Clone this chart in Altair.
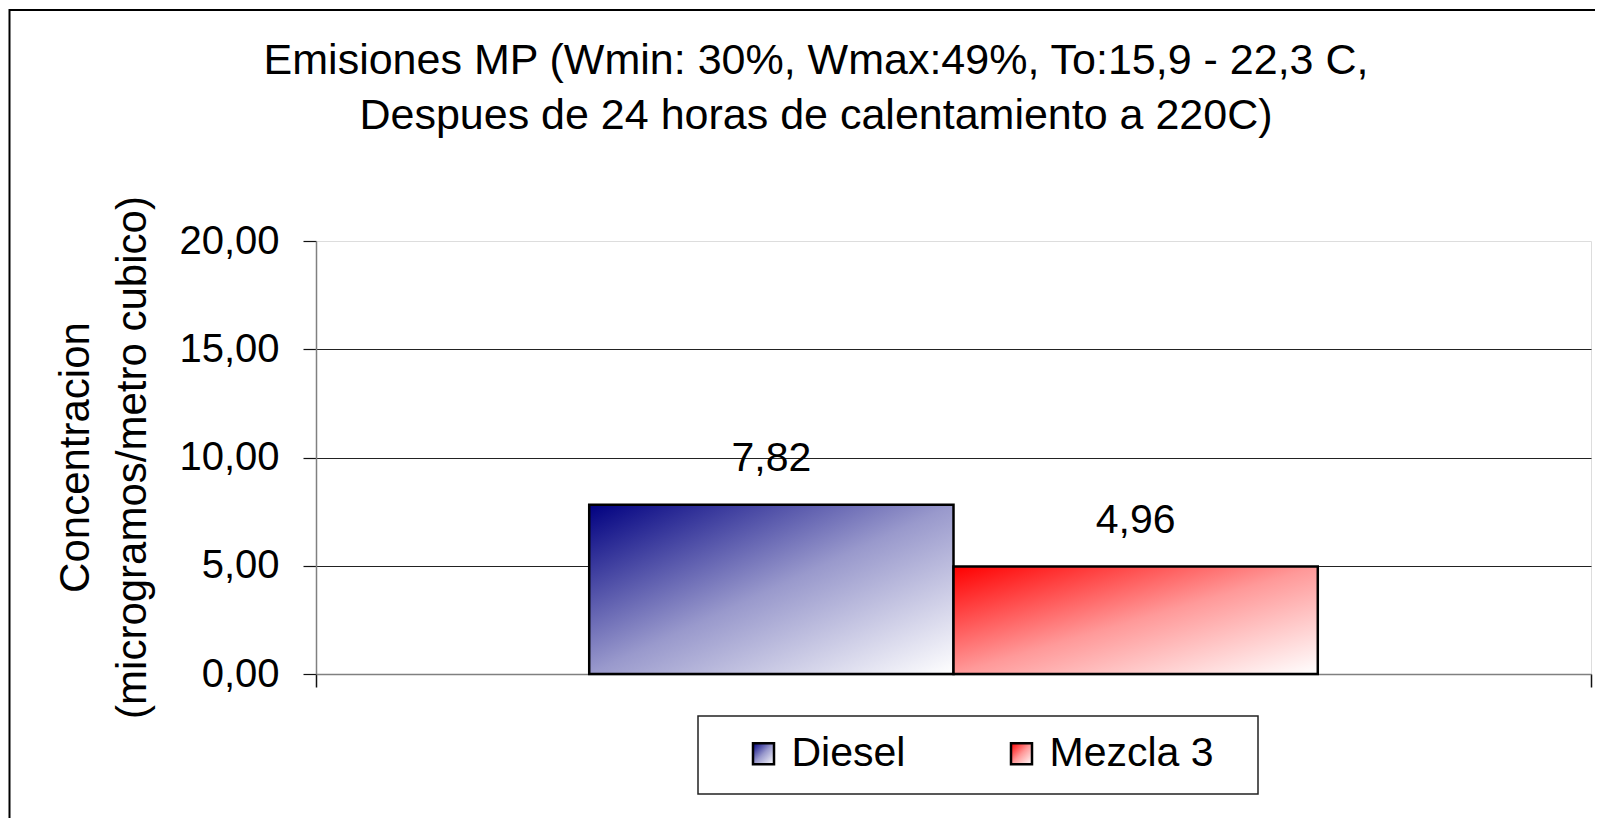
import altair as alt
import pandas as pd

# ---- data ----
categories = ["MP"]
series = ["Diesel", "Mezcla 3"]
values = [7.82, 4.96]
top_colors = ["#000080", "#FF0000"]
mid_colors = ["#9999CC", "#FF9999"]
y_ticks = [0, 5, 10, 15, 20]
title_lines = [
    "Emisiones MP (Wmin: 30%, Wmax:49%, To:15,9 - 22,3 C,",
    "Despues de 24 horas de calentamiento a 220C)",
]
y_title = ["Concentracion", "(microgramos/metro cubico)"]

FONT = "Liberation Sans"

df = pd.DataFrame({
    "cat": categories * len(series),
    "series": series,
    "value": values,
})


def grad_expr(c, m):
    return ("{gradient: 'linear', x1: 0, y1: 0, x2: 1, y2: 1, "
            f"stops: [{{offset: 0, color: '{c}'}}, {{offset: 0.5, color: '{m}'}}, "
            "{offset: 1, color: '#ffffff'}]}")


x_enc = alt.X(
    "cat:N",
    scale=alt.Scale(paddingInner=0, paddingOuter=0),
    axis=alt.Axis(labels=False, title=None, tickBand="extent", tickSize=13,
                  tickColor="#111111", tickWidth=1.5, domainColor="#808080",
                  domainWidth=1.5, grid=False),
)
xo_enc = alt.XOffset(
    "series:N",
    scale=alt.Scale(domain=series, paddingInner=0, paddingOuter=0.75),
)
y_enc = alt.Y(
    "value:Q",
    scale=alt.Scale(domain=[0, 20], nice=False),
    axis=alt.Axis(
        values=y_ticks,
        labelExpr="replace(format(datum.value, '.2f'), '.', ',')",
        labelFont=FONT, labelFontSize=40, labelColor="black", labelPadding=24,
        tickSize=13, tickColor="#111111", tickWidth=1.2,
        domainColor="#808080", domainWidth=1.5,
        grid=True, gridColor="#222222", gridWidth=1,
        gridOpacity={"condition": {"test": "datum.value === 20", "value": 0}, "value": 1},
        title=y_title, titleFont=FONT, titleFontSize=42, titleFontWeight="normal",
        titleColor="black", titleAngle=-90, titleLineHeight=57,
        titleBaseline="alphabetic", titleAlign="center",
        titleX=-228, titleY=216,
    ),
)

base = alt.Chart(df)

bars = base.mark_bar(stroke="black", strokeWidth=2.5, strokeJoin="miter", opacity=1).encode(
    x=x_enc, xOffset=xo_enc, y=y_enc,
    color=alt.Color(
        "series:N",
        scale=alt.Scale(domain=series,
                        range=[alt.ExprRef(expr=grad_expr(c, m)) for c, m in zip(top_colors, mid_colors)]),
        legend=alt.Legend(
            orient="none", legendX=427, legendY=492, direction="horizontal",
            title=None, symbolType="square", symbolSize=441,
            symbolStrokeColor="black", symbolStrokeWidth=2.5, symbolOpacity=1,
            labelFont=FONT, labelFontSize=41, labelColor="black", labelLimit=400,
            labelOffset=7.5, columnPadding=95, padding=0,
        ),
    ),
)

labels = (
    base.transform_calculate(label="replace(format(datum.value, '.2f'), '.', ',')")
    .mark_text(dy=-46, font=FONT, fontSize=41, color="black", baseline="middle")
    .encode(x=x_enc, xOffset=xo_enc, y=y_enc, text="label:N")
)

one = alt.InlineData(values=[{"k": 1}])
# decorative chart-area frame and legend box (page coords minus plot origin 316,241)
frame = alt.Chart(one).mark_rect(fill=None, stroke="black", strokeWidth=2).encode(
    x=alt.value(9.5 - 316), x2=alt.value(1800), y=alt.value(10 - 241), y2=alt.value(900)
)
legend_box = alt.Chart(one).mark_rect(fill=None, stroke="#222222", strokeWidth=1.5).encode(
    x=alt.value(698 - 316), x2=alt.value(1258 - 316), y=alt.value(716 - 241), y2=alt.value(794 - 241)
)

chart = alt.layer(frame, bars, labels, legend_box).properties(
    width=1275,
    height=433,
    padding={"left": 308, "top": 233, "right": 4, "bottom": 144},
    autosize=alt.AutoSizeParams(type="none"),
    title=alt.TitleParams(
        text=title_lines, font=FONT, fontSize=43, fontWeight="normal", color="black",
        anchor="middle", frame="group", dx=-137.5, dy=172, lineHeight=55.5, offset=0,
        baseline="bottom",
    ),
).configure_view(stroke=None).configure(background="white")

chart.save("out.html", embed_options={"renderer": "svg", "actions": False})
